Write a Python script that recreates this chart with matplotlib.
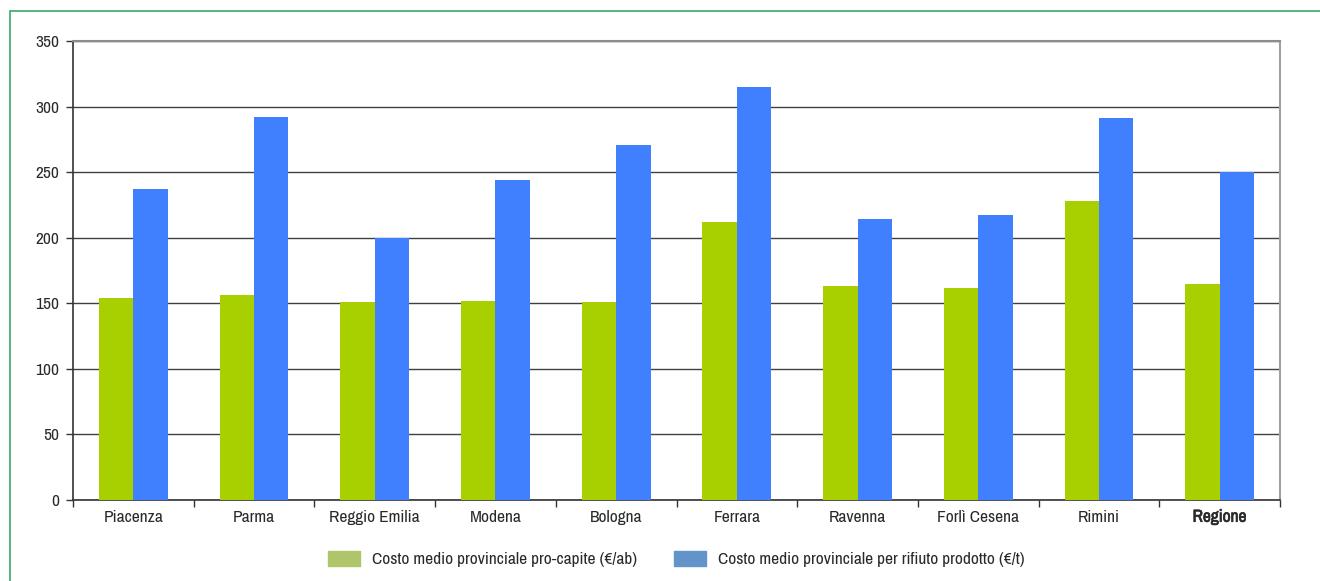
import numpy as np
import matplotlib.pyplot as plt
import matplotlib.patheffects as pe
from matplotlib import font_manager
from matplotlib.patches import Patch, Rectangle

province = ['Piacenza', 'Parma', 'Reggio Emilia', 'Modena', 'Bologna',
            'Ferrara', 'Ravenna', 'Forlì Cesena', 'Rimini', 'Regione']
pro_capite = [154, 156, 151, 152, 151, 212, 163, 162, 228, 165]   # €/ab
per_rifiuto = [237, 292, 200, 244, 271, 315, 214, 217, 291, 250]  # €/t

# font stretto se disponibile
nomi = sorted({f.name for f in font_manager.fontManager.ttflist})
stretti = [n for n in nomi if 'Narrow' in n or 'Condensed' in n]
plt.rcParams['font.family'] = stretti[:1] + ['DejaVu Sans']
plt.rcParams['text.color'] = '#2a2a2a'
plt.rcParams['xtick.labelcolor'] = '#2a2a2a'
plt.rcParams['ytick.labelcolor'] = '#2a2a2a'

fig = plt.figure(figsize=(13.2, 5.81), dpi=100)
ax = fig.add_axes([0.0553, 0.1394, 0.9144, 0.79])

# cornice verde
fig.patches.append(Rectangle((10/1320, -0.5), 2, 1.5 - 11/581, transform=fig.transFigure,
                             fill=False, edgecolor='#3aa86b', linewidth=1.2))

x = np.arange(len(province))
w = 0.285
ax.bar(x - w/2, pro_capite, w, color='#a8d000', zorder=3)
ax.bar(x + w/2, per_rifiuto, w, color='#4080ff', zorder=3)

ax.set_xlim(-0.5, len(province) - 0.5)
ax.set_ylim(0, 350)
ax.set_yticks(np.arange(0, 351, 50))
ax.yaxis.grid(True, color='#404040', linewidth=1.0, zorder=1)

ax.set_xticks(np.arange(-0.5, len(province), 1))
ax.set_xticklabels([])
ax.set_xticks(x, minor=True)
ax.set_xticklabels(province, minor=True)
ax.tick_params(axis='x', which='minor', length=0, pad=7, labelsize=12.5)
ax.tick_params(axis='x', which='major', length=5, width=1, color='#333333')
ax.tick_params(axis='y', length=5, width=1, color='#333333', labelsize=12.5, pad=5)
for lab in ax.get_xticklabels(minor=True):
    if lab.get_text() == 'Regione':
        # il font stretto non ha il grassetto: ispessisco il tratto
        lab.set_path_effects([pe.withStroke(linewidth=0.5, foreground='#2a2a2a')])

for s in ['left', 'bottom']:
    ax.spines[s].set_color('#333333')
    ax.spines[s].set_linewidth(1.2)
ax.spines['top'].set_color('#8c8c8c')
ax.spines['top'].set_linewidth(1.5)
ax.spines['right'].set_color('#a0a0a0')
ax.spines['right'].set_linewidth(1.5)

voci = [('#b0c46a', 'Costo medio provinciale pro-capite (€/ab)', 328),
        ('#6394c9', 'Costo medio provinciale per rifiuto prodotto (€/t)', 674)]
for colore, testo, xpos in voci:
    leg = fig.legend(handles=[Patch(color=colore, label=testo)], loc='center left',
                     bbox_to_anchor=(xpos / 1320, 1 - 559 / 581), frameon=False,
                     fontsize=12.5, handlelength=1.85, handleheight=0.95,
                     handletextpad=0.7, borderpad=0, borderaxespad=0)

fig.savefig('out.png', dpi=100)
